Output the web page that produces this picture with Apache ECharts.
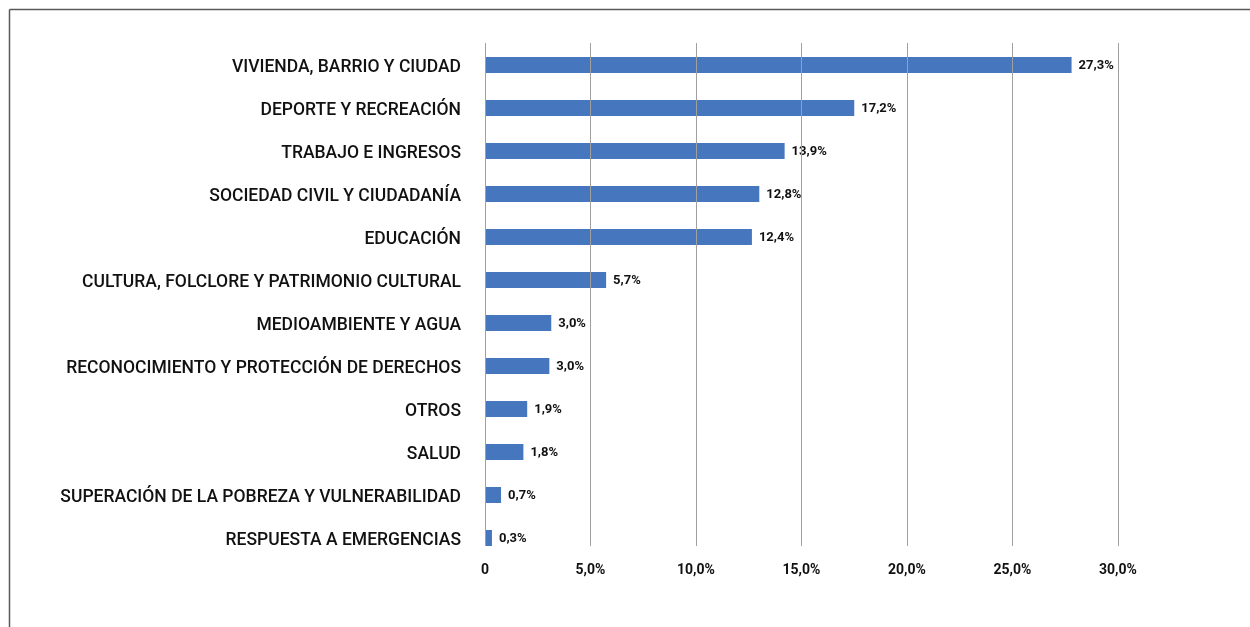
<!DOCTYPE html>
<html>
<head>
<meta charset="utf-8">
<title>Áreas temáticas</title>
<script src="https://cdn.jsdelivr.net/npm/echarts@6/dist/echarts.min.js"></script>
<style>
  body { margin: 0; background: #fff; }
  #chart { width: 1250px; height: 627px; }
</style>
</head>
<body>
<div id="chart"></div>
<script type="text/javascript">
// categorias, de arriba hacia abajo
var categorias = [
    'VIVIENDA, BARRIO Y CIUDAD',
    'DEPORTE Y RECREACIÓN',
    'TRABAJO E INGRESOS',
    'SOCIEDAD CIVIL Y CIUDADANÍA',
    'EDUCACIÓN',
    'CULTURA, FOLCLORE Y PATRIMONIO CULTURAL',
    'MEDIOAMBIENTE Y AGUA',
    'RECONOCIMIENTO Y PROTECCIÓN DE DERECHOS',
    'OTROS',
    'SALUD',
    'SUPERACIÓN DE LA POBREZA Y VULNERABILIDAD',
    'RESPUESTA A EMERGENCIAS'
];
// largo de las barras tal como se ven en el grafico
var porcentajes = [27.8, 17.5, 14.2, 13.0, 12.65, 5.74, 3.14, 3.05, 2.0, 1.82, 0.76, 0.33];
// etiquetas impresas junto a cada barra
var etiquetas = ['27,3%', '17,2%', '13,9%', '12,8%', '12,4%', '5,7%', '3,0%', '3,0%', '1,9%', '1,8%', '0,7%', '0,3%'];
var ticksEje = [0, 5, 10, 15, 20, 25, 30];

function fmt(v) {
    return v.toFixed(1).replace('.', ',') + '%';
}

var chart = echarts.init(document.getElementById('chart'));

var option = {
    animation: false,
    textStyle: { fontFamily: 'Roboto' },
    grid: [
        { left: 485, top: 43.5, width: 633, height: 516 },
        // solo para las lineas verticales, que terminan antes
        { left: 485, top: 43, width: 633, height: 503 }
    ],
    graphic: [
        { type: 'line', shape: { x1: 9.5, y1: 9.5, x2: 1250, y2: 9.5 }, style: { stroke: '#595959', lineWidth: 1.5 } },
        { type: 'line', shape: { x1: 9.5, y1: 9.5, x2: 9.5, y2: 627 }, style: { stroke: '#595959', lineWidth: 1.5 } }
    ],
    xAxis: [{
        type: 'value',
        gridIndex: 0,
        min: ticksEje[0],
        max: ticksEje[ticksEje.length - 1],
        interval: 5,
        axisLine: { show: false },
        axisTick: { show: false },
        splitLine: { show: false },
        axisLabel: {
            color: '#111',
            fontSize: 14,
            fontWeight: 'bold',
            margin: 4,
            formatter: function (v) { return v === 0 ? '0' : fmt(v); }
        }
    }, {
        type: 'value',
        gridIndex: 1,
        z: 10,
        min: ticksEje[0],
        max: ticksEje[ticksEje.length - 1],
        interval: 5,
        axisLine: { show: false },
        axisTick: { show: false },
        axisLabel: { show: false },
        splitLine: { lineStyle: { color: '#a0a0a0', width: 1 } }
    }],
    yAxis: [{
        type: 'category',
        gridIndex: 0,
        inverse: true,
        data: categorias,
        axisLine: { show: false },
        axisTick: { show: false },
        axisLabel: {
            margin: 24,
            formatter: function (v) { return '{c|' + v + '}'; },
            rich: {
                c: {
                    color: '#111',
                    fontFamily: 'Roboto',
                    fontSize: 17.5,
                    fontWeight: 500,
                    padding: [5, 0, 0, 0]
                }
            }
        }
    }, {
        type: 'category',
        gridIndex: 1,
        data: categorias,
        show: false
    }],
    series: [{
        type: 'bar',
        xAxisIndex: 0,
        yAxisIndex: 0,
        data: porcentajes,
        barWidth: 16,
        itemStyle: { color: '#4677be' },
        label: {
            show: true,
            position: 'right',
            distance: 7,
            offset: [0, 1],
            color: '#111',
            fontSize: 13,
            fontWeight: 'bold',
            formatter: function (p) { return etiquetas[p.dataIndex]; }
        }
    }]
};

chart.setOption(option);
</script>
</body>
</html>
